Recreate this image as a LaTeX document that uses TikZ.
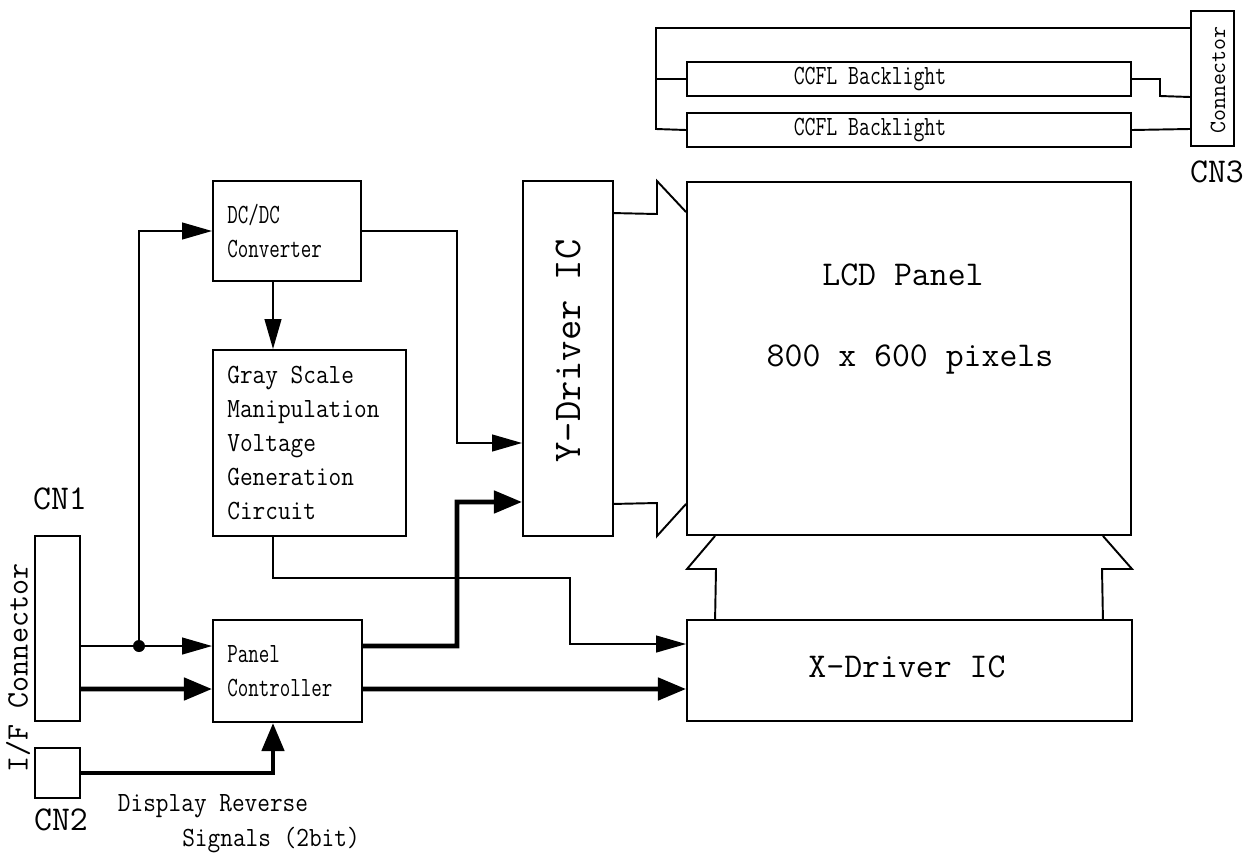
\documentclass[tikz,border=0pt]{standalone}
\usepackage{tikz}
\usetikzlibrary{arrows.meta}
\tikzset{
  box/.style={draw, line width=1.1pt, inner sep=0pt},
  wire/.style={line width=1.1pt},
  bus/.style={line width=2.8pt},
  tip/.style={-{Triangle[length=17pt,width=9.5pt]}},
  bigtip/.style={-{Triangle[length=16pt,width=12.5pt]}},
  txt/.style={font=\ttfamily\fontsize{14}{17.2}\selectfont, align=left, inner sep=0pt, yscale=1.13},
  big/.style={font=\ttfamily\fontsize{19.8}{24}\selectfont, inner sep=0pt}
}

\begin{document}
\begin{tikzpicture}[x=0.02cm,y=-0.02cm]
    \useasboundingbox (0,0) rectangle (1256,856);
    % blocks
    \node[box, minimum width=0.9cm, minimum height=3.7cm] (cnone) at (57.5,628.5) {};
    \node[box, minimum width=0.9cm, minimum height=1cm] (cntwo) at (57.5,773) {};
    \node[box, minimum width=2.96cm, minimum height=2cm] (dcdc) at (287,231) {};
    \node[box, minimum width=3.86cm, minimum height=3.72cm] (gray) at (309.5,443) {};
    \node[box, minimum width=2.98cm, minimum height=2.04cm] (panel) at (287.5,671) {};
    \node[box, minimum width=1.8cm, minimum height=7.1cm] (ydrv) at (568,358.5) {};
    \node[box, minimum width=8.88cm, minimum height=7.06cm] (lcd) at (909,358.5) {};
    \node[box, minimum width=8.9cm, minimum height=2.02cm] (xdrv) at (909.5,670.5) {};
    \node[box, minimum width=8.88cm, minimum height=0.68cm] (blone) at (909,79) {};
    \node[box, minimum width=8.88cm, minimum height=0.68cm] (bltwo) at (909,130) {};
    \node[box, minimum width=0.86cm, minimum height=2.7cm] (cnthree) at (1212.5,78.5) {};
    % texts
    \node[txt, xscale=0.83, anchor=west] (dcdctxt) at ([xshift=0.3cm]dcdc.west) {DC/DC\\Converter};
    \node[txt, anchor=west] (graytxt) at ([xshift=0.3cm]gray.west) {Gray Scale\\Manipulation\\Voltage\\Generation\\Circuit};
    \node[txt, xscale=0.83, anchor=west] (paneltxt) at ([xshift=0.3cm]panel.west) {Panel\\Controller};
    \node[font=\ttfamily\fontsize{22.4}{26}\selectfont, rotate=90, inner sep=0pt] (ydrvtxt) at (568,351) {Y-Driver IC};
    \node[big] (lcdtxt) at (903,275) {LCD Panel};
    \node[big] (pixtxt) at (910,360) {800 x 600 pixels};
    \node[big] (xdrvtxt) at (907,667) {X-Driver IC};
    \node[txt, xscale=0.86] (blonetxt) at (870,79) {CCFL Backlight};
    \node[txt, xscale=0.86] (bltwotxt) at (870,130) {CCFL Backlight};
    \node[font=\ttfamily\fontsize{13.2}{16}\selectfont, rotate=90, inner sep=0pt] (cnthreetxt) at (1218,80) {Connector};
    \node[font=\ttfamily\fontsize{17.7}{20}\selectfont, rotate=90, inner sep=0pt] (iftxt) at (18,668) {I/F Connector};
    \node[big] (cnonelbl) at (60,499) {CN1};
    \node[big] (cntwolbl) at (61,820) {CN2};
    \node[big] (cnthreelbl) at (1217,172) {CN3};
    \node[txt] (revone) at (213,806) {Display Reverse};
    \node[txt] (revtwo) at (271,840) {Signals (2bit)};
    % wiring
    \coordinate (tap) at (139,646);
    \coordinate (stem) at (273,0);
    \draw[wire] (cnone.east |- tap) -- (tap);
    \draw[wire,tip] (tap) -- ([yshift=0.5cm]panel.west);
    \draw[wire,tip] (tap) |- (dcdc.west);
    \fill (tap) circle (0.12cm);
    \draw[bus,bigtip] (cnone.east |- 0,689) -- ([yshift=-0.36cm]panel.west);
    \draw[bus,bigtip] (cntwo.east) -| (panel.south -| stem);
    \draw[wire,tip] (dcdc.south -| stem) -- (gray.north -| stem);
    \draw[wire,tip] (dcdc.east) -| (457,443) -- ([yshift=-1.69cm]ydrv.west);
    \draw[bus,bigtip] ([yshift=0.5cm]panel.east) -| (457,502) -- ([yshift=-2.87cm]ydrv.west);
    \draw[bus,bigtip] ([yshift=-0.36cm]panel.east) -- ([yshift=-0.37cm]xdrv.west);
    \draw[wire,tip] (gray.south -| stem) |- (570,578) |- ([yshift=0.53cm]xdrv.west);
    % buses to the panel
    \draw[wire] ([yshift=-0.66cm]ydrv.north east) -- (657,214) -- (657,181) -- ([yshift=-0.62cm]lcd.north west);
    \draw[wire] ([yshift=0.66cm]ydrv.south east) -- (657,503) -- (657,536) -- ([yshift=0.64cm]lcd.south west);
    \draw[wire] ([xshift=0.58cm]xdrv.north west) -- (716,569) -- (687,569) -- ([xshift=0.58cm]lcd.south west);
    \draw[wire] ([xshift=-0.6cm]xdrv.north east) -- (1102,569) -- (1132,569) -- ([xshift=-0.58cm]lcd.south east);
    % backlight
    \draw[wire] ([yshift=1.01cm]cnthree.west) -| (656,79) -- (blone.west);
    \draw[wire] (656,79) -- (656,129) -- (bltwo.west);
    \draw[wire] (blone.east) -- (1160,79) -- (1160,96) -- ([yshift=-0.37cm]cnthree.west);
    \draw[wire] (bltwo.east) -- ([yshift=-1.01cm]cnthree.west);
\end{tikzpicture}
\end{document}
